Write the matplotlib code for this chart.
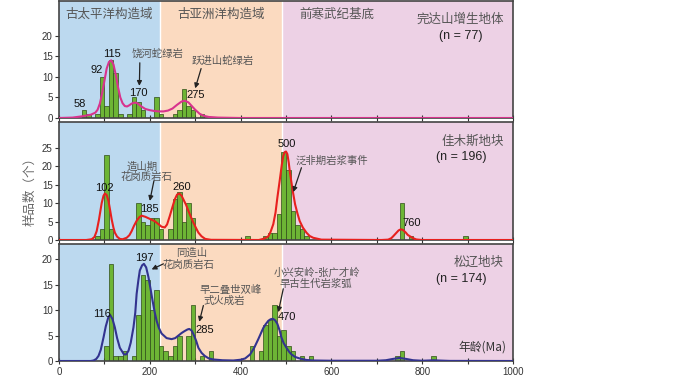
import matplotlib
matplotlib.use("Agg")
import matplotlib.pyplot as plt

plt.rcParams['font.family'] = ['Liberation Sans', 'Noto Sans CJK SC', 'DejaVu Sans']
CJK = ['Noto Sans CJK SC', 'DejaVu Sans']

# tectonic domain boundaries (Ma)
domain_edges = [0, 222, 491, 1000]
domain_names = ["古太平洋构造域", "古亚洲洋构造域", "前寒武纪基底"]
domain_label_x = [111, 356, 612]
domain_colors = ["#bcd9ef", "#fbdac0", "#edd1e5"]

# histogram bins (left edge, 10 Ma wide) and counts
top_bins = [50, 60, 80, 90, 100, 110, 120, 130, 150, 160, 170, 180, 210, 220,
            250, 260, 270, 280, 290, 310]
top_counts = [2, 1, 1, 10, 3, 14, 11, 1, 1, 5, 4, 2, 5, 1, 1, 2, 7, 3, 2, 1]

mid_bins = [80, 90, 100, 110, 170, 180, 190, 200, 210, 220, 240, 250, 260, 270,
            280, 290, 410, 450, 460, 470, 480, 490, 500, 510, 520, 530, 540,
            750, 770, 890]
mid_counts = [1, 3, 23, 3, 10, 5, 4, 6, 6, 3, 3, 11, 13, 5, 10, 6, 1, 1, 2, 2,
              7, 24, 19, 8, 4, 3, 1, 10, 1, 1]

bot_bins = [100, 110, 120, 130, 140, 160, 170, 180, 190, 200, 210, 220, 230, 240,
            250, 260, 280, 290, 310, 330, 420, 440, 450, 460, 470, 480, 490, 500,
            510, 530, 550, 740, 750, 820]
bot_counts = [3, 19, 1, 1, 2, 1, 9, 17, 16, 10, 14, 3, 2, 1, 3, 5, 5, 11, 1, 2,
              3, 2, 7, 8, 11, 5, 6, 3, 2, 1, 1, 1, 2, 1]

# probability density curves
top_curve_x = [0, 30, 50, 70, 80, 85, 90, 95, 100, 105, 110, 115, 120, 125, 130,
               135, 140, 145, 150, 155, 160, 165, 170, 175, 180, 190, 200, 210,
               220, 230, 240, 250, 260, 270, 277, 285, 290, 300, 310, 320, 330,
               350, 400, 1000]
top_curve_y = [0, 0.1, 0.4, 0.8, 1.3, 2, 3.5, 6, 9, 12, 13.6, 14, 13, 10.5, 7.5,
               5, 3.6, 2.9, 2.8, 3.1, 3.5, 3.7, 3.7, 3.4, 2.9, 2.2, 1.9, 1.7,
               1.6, 1.6, 1.8, 2.3, 3.2, 4.0, 4.2, 3.8, 3.2, 2.0, 1.0, 0.5, 0.25,
               0.1, 0, 0]

mid_curve_x = [0, 60, 72, 78, 83, 88, 94, 98, 101, 105, 109, 113, 116, 120, 123,
               128, 134, 140, 149, 155, 160, 165, 171, 177, 182, 190, 197, 204,
               211, 218, 226, 233, 238, 244, 250, 255, 260, 265, 270, 274, 280,
               285, 290, 296, 302, 307, 314, 322, 335, 440, 450, 456, 461, 466,
               472, 477, 481, 486, 491, 494, 497, 500, 503, 506, 509, 512, 516,
               520, 525, 530, 537, 545, 552, 560, 578, 710, 725, 732, 736, 742,
               748, 753, 758, 764, 768, 773, 780, 787, 800, 1000]
mid_curve_y = [0, 0, 0.2, 0.8, 2.4, 5.5, 10, 12, 12.6, 12.2, 10.6, 7.8, 5.6, 3.3,
               2, 0.9, 0.3, 0.2, 0.6, 1.3, 2.4, 3.8, 5.2, 6.2, 6.6, 6.3, 5.9,
               5.5, 5.1, 4.4, 3.6, 3.4, 4.2, 6.5, 9.0, 11, 12.3, 12.6, 12.0, 11,
               9.5, 7.9, 6.4, 4.7, 3.2, 2.0, 1.0, 0.3, 0.05, 0, 0.3, 0.6, 1, 2.2,
               4.3, 7.5, 11.5, 16, 20.6, 22.8, 23.8, 24, 23.3, 21, 18, 15.6,
               12.5, 9.7, 7.3, 5.2, 3.4, 2, 1.1, 0.6, 0.1, 0, 0.1, 0.5, 1, 1.8,
               2.6, 2.9, 2.7, 2.0, 1.4, 1, 0.5, 0.15, 0, 0]

bot_curve_x = [0, 70, 76, 82, 87, 92, 98, 103, 109, 113, 118, 123, 128, 134, 143,
               148, 153, 158, 164, 168, 171, 175, 178, 183, 187, 192, 197, 202,
               206, 211, 215, 220, 226, 237, 248, 256, 263, 270, 277, 283, 287,
               292, 296, 302, 307, 314, 321, 330, 340, 360, 384, 400, 410, 421,
               430, 439, 445, 450, 455, 461, 466, 471, 476, 481, 486, 490, 495,
               501, 507, 512, 520, 530, 545, 560, 600, 700, 720, 735, 750, 765,
               780, 800, 815, 825, 835, 860, 1000]
bot_curve_y = [0, 0, 0.1, 0.4, 1.0, 2.2, 4.6, 6.8, 8.7, 9.0, 8.2, 6.6, 4.5, 2.6,
               1.3, 1.3, 2, 3.6, 6.6, 9.5, 13.2, 16, 17.8, 18.8, 19.1, 18.4,
               16.5, 14, 11.9, 9.5, 7.9, 6.5, 5.4, 4.5, 4.3, 4.5, 5, 5.5, 5.9,
               6.2, 6.3, 6.0, 5.3, 4, 2.6, 1.6, 1.0, 0.5, 0.3, 0.15, 0.1, 0.25,
               0.5, 1.3, 2.6, 4.3, 5.5, 6.5, 7.2, 7.9, 8.2, 8.3, 8.0, 7.3, 6.0,
               4.6, 3.5, 2.6, 1.8, 1.3, 0.8, 0.5, 0.2, 0.1, 0.05, 0.05, 0.15,
               0.4, 0.6, 0.4, 0.15, 0.05, 0.1, 0.15, 0.1, 0.02, 0]

panel_names = ["完达山增生地体", "佳木斯地块", "松辽地块"]
panel_n = ["(n = 77)", "(n = 196)", "(n = 174)"]
panel_ylim = [28.4, 32, 23]
panel_yticks = [[0, 5, 10, 15, 20], [0, 5, 10, 15, 20, 25], [0, 5, 10, 15, 20]]
curve_colors = ["#d8338d", "#e8201e", "#33338f"]

# peak labels: (text, x, y)
peak_labels = [
    [("58", 46, 3.4), ("92", 83, 11.6), ("115", 116, 15.5), ("170", 175, 6.1),
     ("275", 300, 5.6)],
    [("102", 101, 14.2), ("185", 200, 8.3), ("260", 270, 14.5), ("500", 501, 26),
     ("760", 777, 4.7)],
    [("116", 94, 9.2), ("197", 189, 20.3), ("285", 322, 6.1), ("470", 503, 8.6)],
]
# rock notes: (text, x, y, ha)
notes = [
    [("饶河蛇绿岩", 216, 15.5, "center"), ("跃进山蛇绿岩", 360, 13.8, "center")],
    [("造山期", 184, 20, "center"), ("花岗质岩石", 192, 17, "center"),
     ("泛非期岩浆事件", 602, 21.5, "center")],
    [("同造山", 292, 21.2, "center"), ("花岗质岩石", 285, 18.8, "center"),
     ("早二叠世双峰", 377, 14, "center"), ("式火成岩", 363, 11.9, "center"),
     ("小兴安岭-张广才岭", 568, 17.4, "center"), ("早古生代岩浆弧", 565, 15.2, "center")],
]
# arrows: (tail x, tail y, head x, head y)
arrows = [
    [(178, 13.4, 177, 7.8), (313, 12.0, 300, 7.2)],
    [(209, 16, 200, 10.6), (534, 19.6, 516, 13)],
    [(230, 19.1, 204, 18.0), (318, 10.9, 309, 7.7), (494, 14.2, 483, 9.6)],
]

bins_all = [top_bins, mid_bins, bot_bins]
counts_all = [top_counts, mid_counts, bot_counts]
cx_all = [top_curve_x, mid_curve_x, bot_curve_x]
cy_all = [top_curve_y, mid_curve_y, bot_curve_y]

fig = plt.figure(figsize=(7.0, 3.77), dpi=100)
left, width = 59 / 700, 454 / 700
tops = [1, 122, 244]
bottoms = [118, 240, 361]

for i in range(3):
    ax = fig.add_axes([left, 1 - bottoms[i] / 377, width, (bottoms[i] - tops[i]) / 377])
    ax.set_xlim(0, 1000)
    ax.set_ylim(0, panel_ylim[i])

    for k in range(3):
        ax.axvspan(domain_edges[k], domain_edges[k + 1], color=domain_colors[k], lw=0, zorder=0)
    for e in domain_edges[1:3]:
        ax.axvline(e, color="white", lw=1, zorder=0.5)

    ax.bar(bins_all[i], counts_all[i], width=10, align="edge", color="#6db535",
           edgecolor="#2f4d17", linewidth=0.5, zorder=2)
    ax.plot(cx_all[i], cy_all[i], color=curve_colors[i], lw=1.5, zorder=3)

    for txt, x, y in peak_labels[i]:
        ax.text(x, y, txt, fontsize=8, color="#111", ha="center", va="center", zorder=4)
    for txt, x, y, ha in notes[i]:
        ax.text(x, y, txt, fontsize=7.5, color="#555", ha=ha, va="center",
                family=CJK, zorder=4)
    for x0, y0, x1, y1 in arrows[i]:
        ax.annotate("", xy=(x1, y1), xytext=(x0, y0), zorder=4,
                    arrowprops=dict(arrowstyle="-|>", color="#222", lw=0.9,
                                    mutation_scale=7, shrinkA=0, shrinkB=0))

    ax.text(0.98, 0.84, panel_names[i], transform=ax.transAxes, fontsize=9,
            color="#555", ha="right", va="center", family=CJK)
    ax.text(0.885, 0.70, panel_n[i], transform=ax.transAxes, fontsize=9,
            color="#222", ha="center", va="center")

    if i == 0:
        for k in range(3):
            ax.text(domain_label_x[k], 0.89 * panel_ylim[i], domain_names[k],
                    fontsize=9, color="#555", ha="center", va="center", family=CJK)

    ax.set_yticks(panel_yticks[i])
    ax.set_xticks(range(0, 1001, 200))
    ax.set_xticks(range(100, 1000, 200), minor=True)
    ax.tick_params(axis="y", direction="out", length=3, width=0.8, labelsize=7,
                   colors="#333", pad=1.5)
    ax.tick_params(axis="x", which="both", direction="inout", length=5, width=0.8,
                   labelsize=7, colors="#333", pad=1.5)
    if i < 2:
        ax.tick_params(axis="x", labelbottom=False)
    for s in ax.spines.values():
        s.set_color("#444")
        s.set_linewidth(1.2)
    if i == 2:
        ax.text(0.985, 0.12, "年龄(Ma)", transform=ax.transAxes, fontsize=8.5,
                color="#333", ha="right", va="center", family=CJK)

fig.text(0.043, 0.50, "样品数（个）", rotation=90, fontsize=9, color="#666",
         ha="center", va="center", family=CJK)

fig.savefig("out.png", dpi=100)
